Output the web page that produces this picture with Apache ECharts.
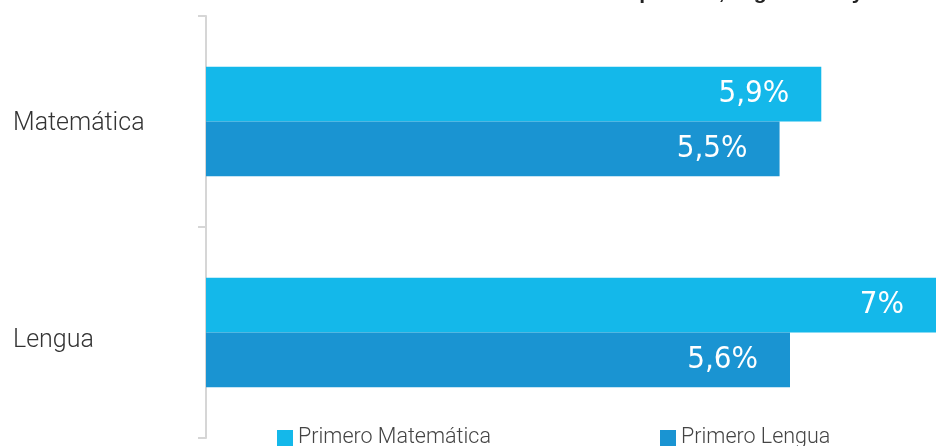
<!DOCTYPE html>
<html>
<head>
<meta charset="utf-8">
<script src="https://cdn.jsdelivr.net/npm/echarts@6/dist/echarts.min.js"></script>
<style>
  html, body { margin: 0; padding: 0; background: #fff; }
  #chart { width: 936px; height: 446px; }
</style>
</head>
<body>
<div id="chart"></div>
<script>
// datos
const categories = ["Matemática", "Lengua"];
const seriesNames = ["Primero Matemática", "Primero Lengua"];
const primeroMatematica = [5.9, 7];
const primeroLengua = [5.5, 5.6];
const colors = ["#14B8EA", "#1A94D2"];

const chart = echarts.init(document.getElementById("chart"));

// etiqueta con coma decimal
function fmt(p) {
    return String(p.value).replace(".", ",") + "%";
}

function barSeries(name, data, color) {
    return {
        name: name,
        type: "bar",
        data: data,
        barGap: "0%",
        barCategoryGap: "48%",
        itemStyle: { color: color },
        label: {
            show: true,
            position: "insideRight",
            distance: 32,
            formatter: fmt,
            color: "#fff",
            fontFamily: "'DejaVu Sans Condensed', Roboto, sans-serif",
            fontWeight: 300,
            fontSize: 31
        },
        emphasis: { disabled: true }
    };
}

const legendText = { fontFamily: "Roboto", fontWeight: 300, fontSize: 21.5, color: "#444" };
const catText = { fontFamily: "Roboto", fontWeight: 300, fontSize: 25, color: "#333" };

const option = {
    animation: false,
    title: {
        text: "Tasa de repitencia, según sexo y área",
        left: 532,
        top: -22,
        textStyle: { fontFamily: "Liberation Sans", fontWeight: "bold", fontSize: 21, color: "#222" }
    },
    legend: [
        {
            data: [seriesNames[0]],
            left: 272, top: 422,
            itemWidth: 16, itemHeight: 16, itemGap: 10,
            icon: "rect",
            textStyle: legendText
        },
        {
            data: [seriesNames[1]],
            left: 655, top: 422,
            itemWidth: 16, itemHeight: 16, itemGap: 10,
            icon: "rect",
            textStyle: legendText
        }
    ],
    grid: { left: 206, right: 0, top: 16, bottom: 8 },
    xAxis: {
        type: "value",
        min: 0,
        max: 7,
        show: false
    },
    yAxis: {
        type: "category",
        data: categories,
        inverse: true,
        axisLine: { lineStyle: { color: "#d6d6d6", width: 2 } },
        axisTick: { show: true, interval: 0, length: 8, lineStyle: { color: "#d6d6d6", width: 2 } },
        axisLabel: {
            align: "left",
            margin: 193,
            formatter: function (v, i) {
                return (i === 0 ? "{a|" : "{b|") + v + "}";
            },
            rich: {
                a: Object.assign({ padding: [4, 0, 0, 0] }, catText),
                b: Object.assign({ padding: [16, 0, 0, 0] }, catText)
            }
        }
    },
    series: [
        barSeries(seriesNames[0], primeroMatematica, colors[0]),
        barSeries(seriesNames[1], primeroLengua, colors[1])
    ]
};

chart.setOption(option);
</script>
</body>
</html>
